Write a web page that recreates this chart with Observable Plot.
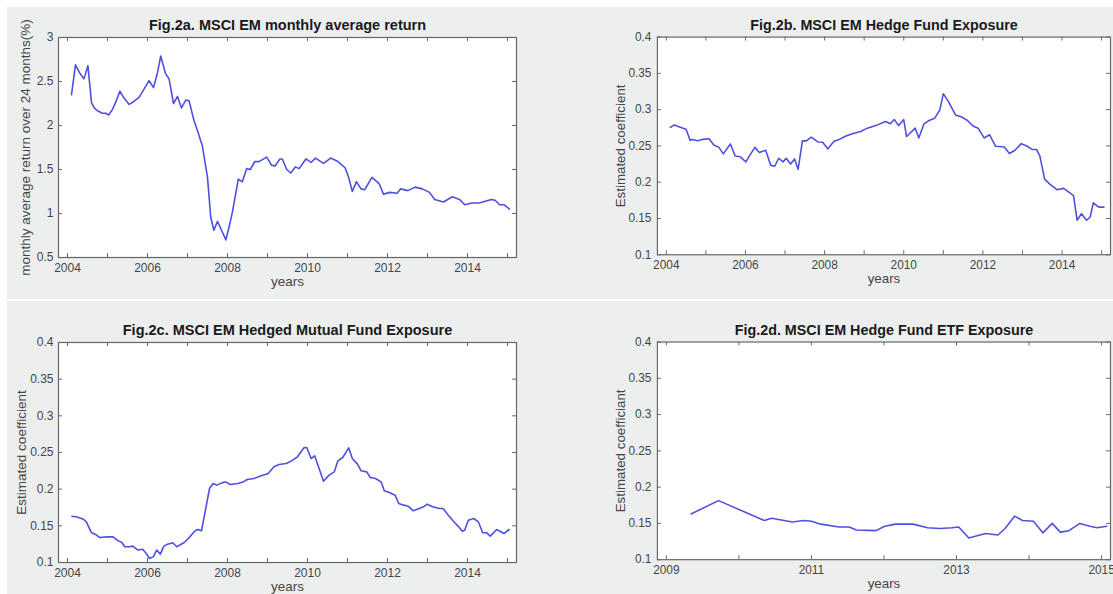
<!DOCTYPE html>
<html><head><meta charset="utf-8">
<script src="https://cdn.jsdelivr.net/npm/d3@7"></script>
<script src="https://cdn.jsdelivr.net/npm/@observablehq/plot@0.6"></script>
<style>
html,body{margin:0;padding:0;background:#fff;width:1113px;height:594px;overflow:hidden;position:relative}
.bg{position:absolute;left:7px;width:1106px;background:#edefef}
.panel{position:absolute}
</style></head><body>
<div class="bg" style="top:7px;height:292px"></div>
<div class="bg" style="top:301px;height:293px"></div>
<div id="pa" class="panel" style="left:0;top:0"></div>
<div id="pb" class="panel" style="left:556px;top:0"></div>
<div id="pc" class="panel" style="left:0;top:299px"></div>
<div id="pd" class="panel" style="left:556px;top:299px"></div>
<script>
// ---------- data ----------
const aTitle = "Fig.2a. MSCI EM monthly average return";
const aYLabel = "monthly average return over 24 months(%)";
const aYears = [2004.10,2004.20,2004.30,2004.41,2004.51,2004.60,2004.67,2004.74,2004.87,2004.95,2005.03,2005.12,2005.20,2005.31,2005.40,2005.54,2005.65,2005.79,2005.92,2006.04,2006.15,2006.25,2006.33,2006.45,2006.54,2006.65,2006.75,2006.85,2006.96,2007.04,2007.16,2007.25,2007.37,2007.50,2007.58,2007.66,2007.75,2007.85,2007.96,2008.04,2008.12,2008.27,2008.37,2008.48,2008.57,2008.68,2008.79,2008.98,2009.10,2009.19,2009.31,2009.37,2009.48,2009.58,2009.70,2009.79,2009.96,2010.09,2010.20,2010.40,2010.58,2010.76,2010.94,2011.03,2011.12,2011.22,2011.34,2011.43,2011.61,2011.79,2011.90,2012.06,2012.24,2012.33,2012.51,2012.69,2012.87,2013.05,2013.18,2013.40,2013.62,2013.80,2013.93,2014.11,2014.29,2014.60,2014.69,2014.80,2014.91,2015.05];
const aValues = [2.35,2.69,2.60,2.53,2.68,2.26,2.20,2.17,2.14,2.14,2.12,2.18,2.26,2.39,2.32,2.24,2.27,2.32,2.42,2.51,2.43,2.60,2.79,2.59,2.53,2.25,2.33,2.20,2.29,2.28,2.06,1.94,1.77,1.41,0.96,0.81,0.91,0.81,0.70,0.85,1.01,1.39,1.36,1.51,1.50,1.59,1.59,1.64,1.55,1.54,1.62,1.62,1.50,1.46,1.53,1.51,1.62,1.58,1.63,1.57,1.63,1.59,1.52,1.41,1.25,1.36,1.28,1.27,1.41,1.34,1.22,1.24,1.23,1.28,1.26,1.30,1.28,1.24,1.16,1.13,1.19,1.16,1.10,1.12,1.12,1.16,1.15,1.10,1.10,1.05];
const aYTicks = [0.5,1,1.5,2,2.5,3];

const bTitle = "Fig.2b. MSCI EM Hedge Fund Exposure";
const bYLabel = "Estimated coefficient";
const bYears = [2004.10,2004.20,2004.37,2004.50,2004.60,2004.66,2004.79,2004.91,2005.08,2005.20,2005.33,2005.44,2005.62,2005.74,2005.87,2006.01,2006.12,2006.24,2006.35,2006.51,2006.64,2006.74,2006.84,2006.95,2007.03,2007.14,2007.24,2007.33,2007.44,2007.54,2007.66,2007.83,2007.95,2008.08,2008.24,2008.37,2008.54,2008.70,2008.91,2009.08,2009.29,2009.54,2009.66,2009.76,2009.87,2010.00,2010.07,2010.29,2010.38,2010.51,2010.64,2010.78,2010.91,2011.00,2011.13,2011.31,2011.48,2011.61,2011.75,2011.88,2012.03,2012.17,2012.32,2012.54,2012.67,2012.81,2012.97,2013.12,2013.25,2013.36,2013.44,2013.56,2013.69,2013.87,2014.04,2014.18,2014.29,2014.38,2014.49,2014.62,2014.71,2014.79,2014.93,2015.06];
const bValues = [0.2755,0.279,0.2755,0.273,0.258,0.259,0.257,0.259,0.260,0.2513,0.248,0.239,0.2527,0.236,0.235,0.228,0.238,0.248,0.241,0.244,0.2232,0.222,0.233,0.228,0.233,0.225,0.232,0.2177,0.257,0.257,0.262,0.2555,0.255,0.246,0.2564,0.259,0.2636,0.2668,0.270,0.2745,0.278,0.2836,0.2805,0.2864,0.278,0.2864,0.263,0.2745,0.261,0.2803,0.285,0.288,0.2994,0.322,0.311,0.2926,0.2894,0.285,0.2776,0.2745,0.261,0.2654,0.2495,0.2486,0.2396,0.244,0.2532,0.2495,0.245,0.245,0.236,0.2042,0.1974,0.1897,0.1915,0.186,0.1816,0.1476,0.1566,0.1476,0.152,0.1716,0.1657,0.1657];

const cTitle = "Fig.2c. MSCI EM Hedged Mutual Fund Exposure";
const cYLabel = "Estimated coefficient";
const cYears = [2004.11,2004.24,2004.40,2004.47,2004.60,2004.69,2004.81,2005.00,2005.14,2005.27,2005.36,2005.43,2005.54,2005.63,2005.76,2005.88,2005.97,2006.05,2006.15,2006.23,2006.32,2006.41,2006.50,2006.63,2006.73,2006.83,2006.92,2007.06,2007.19,2007.26,2007.35,2007.44,2007.55,2007.64,2007.73,2007.86,2007.95,2008.07,2008.26,2008.40,2008.49,2008.66,2008.84,2009.02,2009.16,2009.29,2009.47,2009.60,2009.75,2009.91,2009.98,2010.09,2010.18,2010.40,2010.54,2010.67,2010.76,2010.88,2011.03,2011.12,2011.25,2011.34,2011.48,2011.57,2011.70,2011.84,2011.92,2012.06,2012.19,2012.28,2012.41,2012.52,2012.64,2012.73,2012.90,2012.99,2013.13,2013.30,2013.39,2013.52,2013.66,2013.78,2013.87,2013.93,2014.02,2014.16,2014.27,2014.38,2014.48,2014.57,2014.73,2014.91,2015.04];
const cValues = [0.163,0.162,0.159,0.1555,0.1405,0.1386,0.134,0.135,0.135,0.1295,0.1273,0.1214,0.1214,0.1223,0.117,0.118,0.1123,0.1055,0.108,0.117,0.1114,0.1223,0.125,0.127,0.1214,0.1245,0.1273,0.135,0.1432,0.145,0.1432,0.169,0.2009,0.2077,0.2055,0.2086,0.21,0.2064,0.2077,0.21,0.2132,0.2145,0.2182,0.2214,0.2305,0.2336,0.235,0.2386,0.2441,0.2564,0.2568,0.2418,0.2455,0.2109,0.2191,0.2236,0.2386,0.2432,0.2564,0.2418,0.2341,0.225,0.2236,0.2159,0.2145,0.21,0.1977,0.195,0.1918,0.1805,0.1782,0.1768,0.1705,0.1723,0.1759,0.1795,0.1759,0.1736,0.1736,0.1645,0.1555,0.1486,0.1427,0.1441,0.1577,0.16,0.1555,0.1405,0.1405,0.136,0.145,0.1395,0.145];

const dTitle = "Fig.2d. MSCI EM Hedge Fund ETF Exposure";
const dYLabel = "Estimated coefficiant";
const dYears = [2009.34,2009.72,2010.35,2010.45,2010.74,2010.89,2011.00,2011.13,2011.38,2011.52,2011.62,2011.89,2012.01,2012.16,2012.40,2012.60,2012.77,2012.94,2013.03,2013.17,2013.40,2013.57,2013.67,2013.80,2013.91,2014.06,2014.19,2014.32,2014.43,2014.55,2014.70,2014.84,2014.94,2015.07];
const dValues = [0.163,0.1814,0.154,0.157,0.152,0.154,0.153,0.149,0.145,0.145,0.141,0.140,0.146,0.149,0.149,0.144,0.143,0.144,0.145,0.130,0.136,0.134,0.143,0.160,0.154,0.153,0.137,0.150,0.138,0.140,0.150,0.146,0.144,0.146];

const coefTicks = [0.1,0.15,0.2,0.25,0.3,0.35,0.4];
const yearTicks = [2004,2005,2006,2007,2008,2009,2010,2011,2012,2013,2014,2015];
const yearLabels = [2004,2006,2008,2010,2012,2014];
const dYearTicks = [2009,2010,2011,2012,2013,2014,2015];
const dYearLabels = [2009,2011,2013,2015];

// ---------- drawing ----------
const FONT = '"Liberation Sans", Arial, Helvetica, sans-serif';
const BLUE = "#5050e0";
const AXIS = "#666";
const PW = 458, PH = 220;

function drawPanel(o) {
  const data = o.years.map((x, i) => ({x, y: o.values[i]}));
  const chart = Plot.plot({
    width: o.width, height: o.height,
    marginLeft: o.mL, marginTop: o.mT,
    marginRight: o.width - o.mL - PW,
    marginBottom: o.height - o.mT - PH,
    x: {domain: o.xDomain, axis: null},
    y: {domain: o.yDomain, axis: null},
    style: {fontFamily: FONT, background: "transparent", overflow: "visible", color: "#444"},
    marks: [
      Plot.frame({fill: "white", stroke: null}),
      Plot.tickX(o.xTicks, {x: d => d, insetTop: PH - 4, stroke: AXIS, strokeWidth: 1}),
      Plot.tickX(o.xTicks, {x: d => d, insetBottom: PH - 4, stroke: AXIS, strokeWidth: 1}),
      Plot.tickY(o.yTicks, {y: d => d, insetRight: PW - 4, stroke: AXIS, strokeWidth: 1}),
      Plot.tickY(o.yTicks, {y: d => d, insetLeft: PW - 4, stroke: AXIS, strokeWidth: 1}),
      Plot.axisX({ticks: o.xLabels, tickSize: 0, tickPadding: 6, tickFormat: d => String(d), fontSize: 12, label: null, fill: "#454545"}),
      Plot.axisY({ticks: o.yTicks, tickSize: 0, tickPadding: o.yPad, tickFormat: d => String(d), fontSize: 12, label: null, fill: "#454545"}),
      Plot.line(data, {x: "x", y: "y", stroke: BLUE, strokeWidth: 1.6}),
      Plot.frame({stroke: AXIS, strokeWidth: 1.2}),
      Plot.text([o.title], {text: d => d, frameAnchor: "top", lineAnchor: "middle", textAnchor: "middle", dy: -12, fontSize: 14.5, fontWeight: "bold", fill: "#1a1a1a"}),
      Plot.text(["years"], {text: d => d, frameAnchor: "bottom", lineAnchor: "middle", textAnchor: "middle", dy: 24, fontSize: 13.5, fill: "#454545"}),
      Plot.text([o.ylabel], {text: d => d, frameAnchor: "left", lineAnchor: "middle", textAnchor: "middle", dx: -o.yLabelOff, rotate: -90, fontSize: 13.5, fill: "#454545"})
    ]
  });
  document.getElementById(o.el).appendChild(chart);
}

drawPanel({el: "pa", width: 556, height: 299, mL: 58, mT: 37,
  xDomain: [2003.775, 2015.225], yDomain: [0.5, 3], xTicks: yearTicks, xLabels: yearLabels,
  yTicks: aYTicks, years: aYears, values: aValues, title: aTitle, ylabel: aYLabel, yLabelOff: 33, yPad: 5});
drawPanel({el: "pb", width: 563, height: 299, mL: 102, mT: 37,
  xDomain: [2003.775, 2015.225], yDomain: [0.1, 0.4], xTicks: yearTicks, xLabels: yearLabels,
  yTicks: coefTicks, years: bYears, values: bValues, title: bTitle, ylabel: bYLabel, yLabelOff: 37, yPad: 6});
drawPanel({el: "pc", width: 556, height: 295, mL: 58, mT: 43,
  xDomain: [2003.775, 2015.225], yDomain: [0.1, 0.4], xTicks: yearTicks, xLabels: yearLabels,
  yTicks: coefTicks, years: cYears, values: cValues, title: cTitle, ylabel: cYLabel, yLabelOff: 37, yPad: 5});
drawPanel({el: "pd", width: 563, height: 295, mL: 102, mT: 43,
  xDomain: [2008.877, 2015.123], yDomain: [0.1, 0.4], xTicks: dYearTicks, xLabels: dYearLabels,
  yTicks: coefTicks, years: dYears, values: dValues, title: dTitle, ylabel: dYLabel, yLabelOff: 37, yPad: 6});
</script>
</body></html>
